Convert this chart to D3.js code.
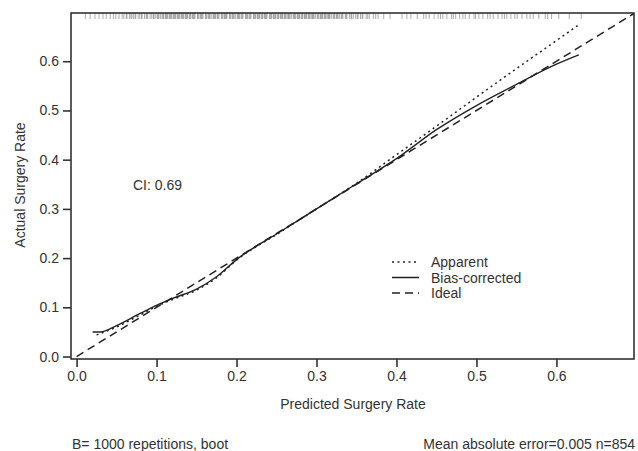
<!DOCTYPE html>
<html>
  <head>
    <meta charset="utf-8" />
    <title>Calibration</title>
    <style>
      body { margin: 0; background: #fff; }
      text { font-family: "Liberation Sans", Arial, sans-serif; fill: #333; }
    </style>
    <script src="https://d3js.org/d3.v7.min.js"></script>
  </head>
  <body>
    <svg id="chart" width="638" height="451"></svg>
    <script>
      // curve data
      const apparentX = [0.025, 0.05, 0.08, 0.10, 0.12, 0.15, 0.175, 0.20, 0.25, 0.30, 0.35, 0.40, 0.45, 0.50, 0.55, 0.60, 0.627];
      const apparentY = [0.044, 0.060, 0.085, 0.102, 0.116, 0.135, 0.160, 0.196, 0.248, 0.300, 0.352, 0.410, 0.468, 0.527, 0.585, 0.642, 0.673];
      const biasX = [0.02, 0.03, 0.05, 0.08, 0.10, 0.12, 0.15, 0.175, 0.20, 0.25, 0.30, 0.35, 0.40, 0.45, 0.50, 0.55, 0.60, 0.628];
      const biasY = [0.050, 0.050, 0.063, 0.088, 0.104, 0.118, 0.137, 0.162, 0.197, 0.249, 0.300, 0.351, 0.402, 0.461, 0.510, 0.553, 0.594, 0.613];
      const idealX = [0, 0.697];

      // predicted values shown as the rug along the top
      const rugValues = [
        0.011, 0.017, 0.023, 0.028, 0.033, 0.037, 0.042, 0.046, 0.049, 0.053, 0.057, 0.059, 0.063, 0.066,
        0.069, 0.071, 0.074, 0.077, 0.079, 0.082, 0.085, 0.087, 0.089, 0.092, 0.094, 0.097, 0.099, 0.101,
        0.103, 0.105, 0.107, 0.109, 0.111, 0.113, 0.114, 0.116, 0.118, 0.119, 0.121, 0.123, 0.124, 0.126,
        0.128, 0.129, 0.131, 0.133, 0.134, 0.136, 0.137, 0.139, 0.141, 0.143, 0.145, 0.146, 0.148, 0.151,
        0.153, 0.155, 0.157, 0.158, 0.161, 0.163, 0.165, 0.167, 0.169, 0.171, 0.172, 0.174, 0.176, 0.178,
        0.181, 0.183, 0.185, 0.186, 0.188, 0.191, 0.193, 0.195, 0.197, 0.199, 0.201, 0.203, 0.204, 0.206,
        0.208, 0.211, 0.213, 0.214, 0.216, 0.218, 0.221, 0.222, 0.224, 0.226, 0.228, 0.229, 0.231, 0.233,
        0.235, 0.236, 0.238, 0.241, 0.243, 0.244, 0.246, 0.248, 0.249, 0.251, 0.253, 0.255, 0.257, 0.258,
        0.26, 0.262, 0.264, 0.266, 0.267, 0.269, 0.271, 0.273, 0.274, 0.276, 0.278, 0.279, 0.281, 0.283,
        0.285, 0.287, 0.288, 0.29, 0.292, 0.294, 0.296, 0.297, 0.299, 0.301, 0.303, 0.305, 0.306, 0.308,
        0.31, 0.312, 0.314, 0.316, 0.317, 0.319, 0.321, 0.323, 0.325, 0.327, 0.329, 0.331, 0.333, 0.336,
        0.338, 0.341, 0.343, 0.346, 0.349, 0.352, 0.355, 0.358, 0.362, 0.366, 0.371, 0.377, 0.384, 0.392,
        0.407, 0.418, 0.426, 0.434, 0.441, 0.447, 0.452, 0.458, 0.463, 0.469, 0.474, 0.479, 0.486, 0.491,
        0.497, 0.503, 0.508, 0.514, 0.521, 0.527, 0.532, 0.538, 0.543, 0.551, 0.557, 0.563, 0.571, 0.578,
        0.586, 0.594, 0.603, 0.616, 0.631,
        0.062, 0.068, 0.073, 0.081, 0.088, 0.096, 0.102, 0.108, 0.112, 0.117, 0.122, 0.127, 0.132, 0.138,
        0.142, 0.147, 0.152, 0.156, 0.162, 0.166, 0.173, 0.177, 0.182, 0.187, 0.192, 0.196, 0.202, 0.207,
        0.212, 0.217, 0.223, 0.227, 0.232, 0.237, 0.242, 0.247, 0.252, 0.256, 0.261, 0.265, 0.272, 0.277,
        0.282, 0.286, 0.291, 0.295, 0.302, 0.307, 0.311, 0.315, 0.322, 0.326, 0.332, 0.337, 0.344, 0.351,
        0.357, 0.364, 0.374, 0.413, 0.437, 0.455, 0.471, 0.483, 0.499, 0.517, 0.535, 0.548, 0.567, 0.589
      ];

      const xTicks = [0.0, 0.1, 0.2, 0.3, 0.4, 0.5, 0.6];
      const yTicks = [0.0, 0.1, 0.2, 0.3, 0.4, 0.5, 0.6];

      const legendLabels = ["Apparent", "Bias-corrected", "Ideal"];
      const legendDash = ["2,3.5", null, "8,5"];

      const svg = d3.select("#chart");
      const box = { left: 71, right: 634, top: 13, bottom: 359 };
      const fs = 14;

      const x = d3.scaleLinear().domain([-0.007, 0.697]).range([box.left, box.right]);
      const y = d3.scaleLinear().domain([-0.005, 0.698]).range([box.bottom, box.top]);

      // rug
      svg.append("g")
        .selectAll("line")
        .data(rugValues)
        .join("line")
        .attr("x1", d => x(d)).attr("x2", d => x(d))
        .attr("y1", box.top).attr("y2", box.top + 6)
        .attr("stroke", "#666")
        .attr("stroke-opacity", 0.6)
        .attr("stroke-width", 0.9);

      const line = d3.line().x(d => x(d[0])).y(d => y(d[1])).curve(d3.curveMonotoneX);

      // ideal
      svg.append("path")
        .attr("d", d3.line().x(d => x(d)).y(d => y(d))(idealX))
        .attr("fill", "none").attr("stroke", "#222")
        .attr("stroke-width", 1.5).attr("stroke-dasharray", "8,5");

      // apparent
      svg.append("path")
        .attr("d", line(apparentX.map((v, i) => [v, apparentY[i]])))
        .attr("fill", "none").attr("stroke", "#222")
        .attr("stroke-width", 1.5).attr("stroke-dasharray", "2,3.5");

      // bias-corrected
      svg.append("path")
        .attr("d", line(biasX.map((v, i) => [v, biasY[i]])))
        .attr("fill", "none").attr("stroke", "#222")
        .attr("stroke-width", 1.4);

      // frame
      svg.append("rect")
        .attr("x", box.left).attr("y", box.top)
        .attr("width", box.right - box.left).attr("height", box.bottom - box.top)
        .attr("fill", "none").attr("stroke", "#333").attr("stroke-width", 1.6);

      // axes
      const xAxis = svg.append("g")
        .attr("transform", `translate(0,${box.bottom})`)
        .call(d3.axisBottom(x).tickValues(xTicks).tickFormat(d3.format(".1f")).tickSize(8).tickPadding(4));
      const yAxis = svg.append("g")
        .attr("transform", `translate(${box.left},0)`)
        .call(d3.axisLeft(y).tickValues(yTicks).tickFormat(d3.format(".1f")).tickSize(8).tickPadding(4));
      [xAxis, yAxis].forEach(a => {
        a.select(".domain").remove();
        a.selectAll(".tick line").attr("stroke", "#333").attr("stroke-width", 1.6);
        a.selectAll(".tick text").attr("font-size", fs)
          .attr("font-family", "Liberation Sans, Arial, sans-serif").attr("fill", "#333");
      });

      // labels
      svg.append("text")
        .attr("x", 353).attr("y", 409)
        .attr("text-anchor", "middle").attr("font-size", fs)
        .text("Predicted Surgery Rate");
      svg.append("text")
        .attr("transform", "translate(25,185) rotate(-90)")
        .attr("text-anchor", "middle").attr("font-size", fs)
        .text("Actual Surgery Rate");
      svg.append("text")
        .attr("x", 133).attr("y", 190).attr("font-size", fs)
        .text("CI: 0.69");
      svg.append("text")
        .attr("x", 72).attr("y", 449).attr("font-size", fs)
        .text("B= 1000 repetitions, boot");
      svg.append("text")
        .attr("x", 635).attr("y", 449).attr("text-anchor", "end").attr("font-size", fs)
        .text("Mean absolute error=0.005 n=854");

      // legend
      const legend = svg.append("g").attr("transform", "translate(392,262)");
      legendLabels.forEach((lab, i) => {
        const g = legend.append("g").attr("transform", `translate(0,${i * 15.5})`);
        g.append("line").attr("x1", 0).attr("x2", 27).attr("y1", 0).attr("y2", 0)
          .attr("stroke", "#222").attr("stroke-width", 1.5)
          .attr("stroke-dasharray", legendDash[i]);
        g.append("text").attr("x", 39).attr("y", 5).attr("font-size", fs).text(lab);
      });
    </script>
  </body>
</html>
